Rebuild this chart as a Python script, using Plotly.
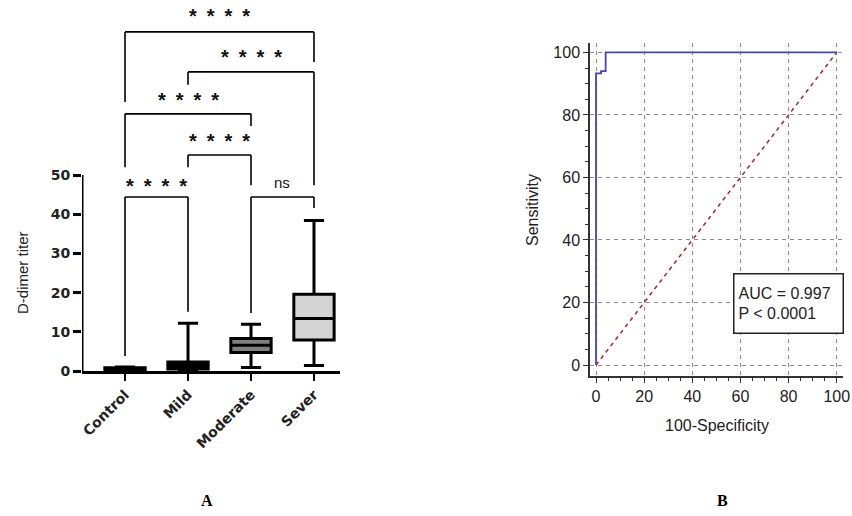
import plotly.graph_objects as go

# Panel A: D-dimer titer by severity group (box summary)
groups = ["Control", "Mild", "Moderate", "Sever"]
q1 = [0.3, 0.5, 4.7, 7.9]
median = [0.5, 1.5, 6.6, 13.4]
q3 = [0.8, 2.3, 8.3, 19.6]
lower = [0.1, 0.2, 0.9, 1.4]
upper = [1.0, 12.2, 11.9, 38.4]
box_fill = ["black", "black", "#808080", "#d4d4d4"]

# pairwise comparisons and their labels
stars = "*\u2002*\u2002*\u2002*"
comparisons = [
    ("Control", "Sever", stars),
    ("Mild", "Sever", stars),
    ("Control", "Moderate", stars),
    ("Mild", "Moderate", stars),
    ("Control", "Mild", stars),
    ("Moderate", "Sever", "ns"),
]

# Panel B: ROC curve
roc_fpr = [0, 0, 2.1, 2.1, 4.0, 4.0, 100]
roc_tpr = [0, 93.3, 93.3, 94.0, 94.0, 100, 100]
ref_line = [0, 100]
auc_text = "AUC = 0.997<br>P < 0.0001"

W, H = 852, 516


def fx(px):
    return px / W


def fy(py):
    return 1 - py / H


wide = "DejaVu Sans, Verdana, sans-serif"
arial = "Arial, Liberation Sans"

fig = go.Figure()

for i, g in enumerate(groups):
    fig.add_trace(go.Box(
        x=[g], q1=[q1[i]], median=[median[i]], q3=[q3[i]],
        lowerfence=[lower[i]], upperfence=[upper[i]],
        fillcolor=box_fill[i], line=dict(color="black", width=3),
        width=0.64, whiskerwidth=0.5, showlegend=False,
        xaxis="x", yaxis="y", hoverinfo="skip",
    ))

fig.add_trace(go.Scatter(
    x=ref_line, y=ref_line, mode="lines", xaxis="x2", yaxis="y2",
    line=dict(color="#a02828", width=1.5, dash="4px,4px"), showlegend=False,
))
fig.add_trace(go.Scatter(
    x=roc_fpr, y=roc_tpr, mode="lines", xaxis="x2", yaxis="y2",
    line=dict(color="#4646a8", width=1.8), showlegend=False,
))

shapes = []
annotations = []

# y axis line of panel A only runs 0..50
shapes.append(dict(type="line", xref="x", yref="y", x0=-0.683, x1=-0.683, y0=0, y1=50,
                   line=dict(color="black", width=3)))

# bracket geometry: bar height, left leg end, right leg end, label height
bracket_geom = [
    (86.5, 68.6, 78.8, 90.6),
    (76.3, 73.0, 47.4, 80.1),
    (65.6, 52.0, 62.5, 69.1),
    (55.1, 52.0, 47.4, 58.6),
    (44.4, 3.8, 15.1, 47.3),
    (44.4, 14.8, 41.6, 48.2),
]
for (a, b, lab), (hy, la, ra, ty) in zip(comparisons, bracket_geom):
    xa, xb = groups.index(a), groups.index(b)
    for x0, y0, x1, y1 in [(xa, la, xa, hy), (xa, hy, xb, hy), (xb, hy, xb, ra)]:
        shapes.append(dict(type="line", xref="x", yref="y", x0=x0, y0=y0, x1=x1, y1=y1,
                           line=dict(color="black", width=1.6)))
    annotations.append(dict(x=(xa + xb) / 2, y=ty, xref="x", yref="y", text=lab,
                            showarrow=False, xanchor="center", yanchor="middle",
                            font=dict(family=arial, size=20 if lab != "ns" else 15,
                                      color="#111", weight="bold" if lab != "ns" else "normal")))


def paper_text(text, px, py, size, family=arial, angle=0, color="#222"):
    annotations.append(dict(x=fx(px), y=fy(py), xref="paper", yref="paper", text=text,
                            textangle=angle, showarrow=False, xanchor="center",
                            yanchor="middle", font=dict(family=family, size=size, color=color)))


paper_text("D-dimer titer", 22, 273, 15, angle=-90)
paper_text("Sensitivity", 532, 210, 16, angle=-90)
paper_text("100-Specificity", 717, 425, 16)

annotations.append(dict(x=fx(733), y=fy(303.5), xref="paper", yref="paper",
                        xanchor="left", yanchor="middle", align="left",
                        text=auc_text, showarrow=False, width=100, height=50,
                        bordercolor="#222", borderwidth=1.5, borderpad=4, bgcolor="white",
                        font=dict(family=arial, size=16, color="#222")))

# panel letters
paper_text("<b>A</b>", 207, 500, 16, family="Liberation Serif, Times New Roman", color="black")
paper_text("<b>B</b>", 722, 500, 16, family="Liberation Serif, Times New Roman", color="black")

roc_axis = dict(tickvals=[0, 20, 40, 60, 80, 100], showline=True, linecolor="#333",
                linewidth=1.5, ticks="outside", ticklen=5, tickcolor="#333",
                minor=dict(dtick=5, tick0=0, ticks="outside", ticklen=3, tickcolor="#333"),
                showgrid=True, gridcolor="#8c8c8c", griddash="4px,4px", gridwidth=1,
                zeroline=False, tickfont=dict(family=arial, size=16, color="#222"),
                ticklabeloverflow="allow", automargin=False)

fig.update_layout(
    width=W, height=H,
    margin=dict(l=0, r=0, t=0, b=0),
    paper_bgcolor="white", plot_bgcolor="white",
    boxmode="overlay",
    shapes=shapes, annotations=annotations,
    xaxis=dict(domain=[fx(82), fx(340)], type="category", categoryorder="array",
               categoryarray=groups, range=[-0.683, 3.413], showline=True,
               linecolor="black", linewidth=3, ticks="outside", ticklen=7, tickwidth=2,
               tickcolor="black", tickangle=-45, showgrid=False, zeroline=False,
               tickfont=dict(family=wide, size=14, color="#222", weight="bold"),
               anchor="y", automargin=False),
    yaxis=dict(domain=[fy(371), 1], range=[0, 371 / 3.92],
               tickvals=[0, 10, 20, 30, 40, 50],
               showline=False, ticks="outside", ticklen=8, tickwidth=2.5, tickcolor="black",
               showgrid=False, zeroline=False,
               tickfont=dict(family=wide, size=14, color="#222", weight="bold"),
               anchor="x", automargin=False),
    xaxis2=dict(domain=[fx(590), fx(843)], range=[-2.5, 102.6], anchor="y2",
                ticklabelstandoff=0, **roc_axis),
    yaxis2=dict(domain=[fy(376), fy(43.3)], range=[-3.5, 102.9], anchor="x2", **roc_axis),
)

# drop the default page margin so the figure fills the window
fig.write_html("out.html", config={"displayModeBar": False},
               post_script="document.body.style.margin = '0';")
